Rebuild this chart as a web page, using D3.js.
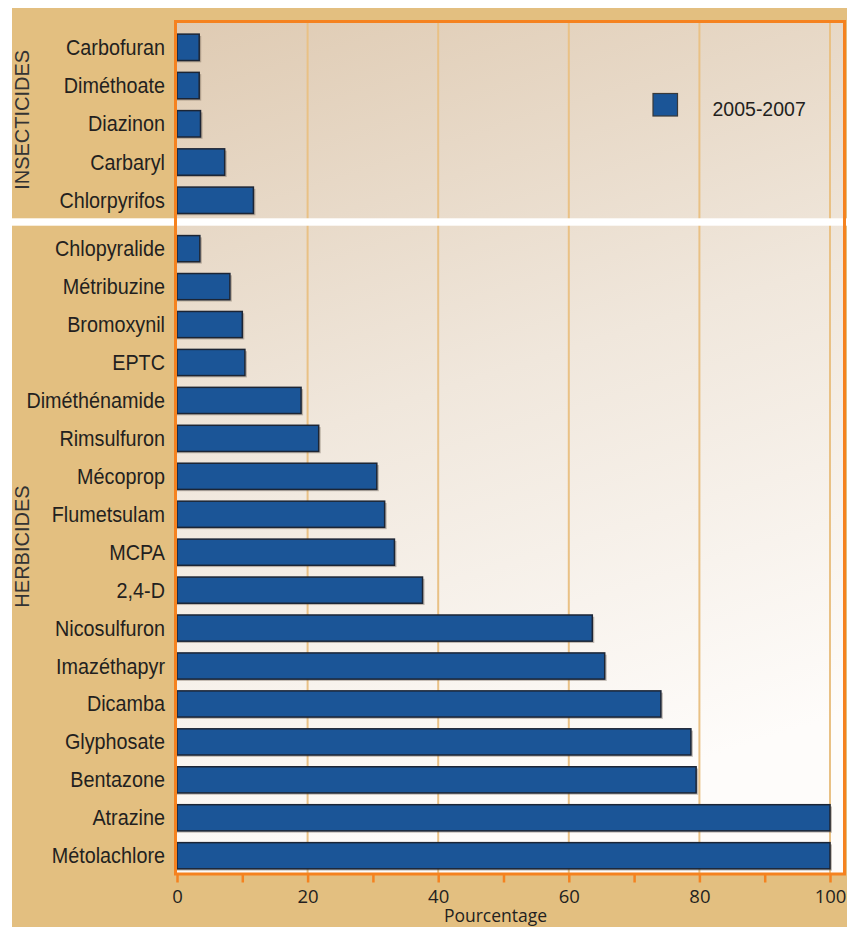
<!DOCTYPE html>
<html>
<head>
<meta charset="utf-8">
<script src="https://cdn.jsdelivr.net/npm/d3@7"></script>
<style>
  html, body { margin: 0; padding: 0; background: #ffffff; }
  svg { display: block; }
</style>
</head>
<body>
<svg id="chart" width="847" height="927"></svg>
<script>
// ---- Data ----
const insecticides = ["Carbofuran", "Diméthoate", "Diazinon", "Carbaryl", "Chlorpyrifos"];
const insecticideValues = [3.4, 3.4, 3.6, 7.3, 11.7];

const herbicides = ["Chlopyralide", "Métribuzine", "Bromoxynil", "EPTC", "Diméthénamide",
  "Rimsulfuron", "Mécoprop", "Flumetsulam", "MCPA", "2,4-D", "Nicosulfuron",
  "Imazéthapyr", "Dicamba", "Glyphosate", "Bentazone", "Atrazine", "Métolachlore"];
const herbicideValues = [3.5, 8.1, 10.0, 10.4, 19.0, 21.7, 30.6, 31.8, 33.3, 37.6, 63.6,
  65.5, 74.1, 78.7, 79.5, 100, 100];

const groupLabels = ["INSECTICIDES", "HERBICIDES"];
const seriesName = "2005-2007";
const tickValues = [0, 10, 20, 30, 40, 50, 60, 70, 80, 90, 100];
const tickLabels = ["0", "", "20", "", "40", "", "60", "", "80", "", "100"];
const axisTitle = "Pourcentage";

// ---- Layout ----
const svg = d3.select("#chart");
const W = 847, H = 927;
const plot = { left: 175.5, top: 21.5, right: 844.5, bottom: 874 };

const x = d3.scaleLinear().domain([0, 100]).range([177, 830]);
const yIns = d3.scaleBand().domain(insecticides).range([28.2, 219.4]).paddingInner(0.31).paddingOuter(0.155);
const yHerb = d3.scaleBand().domain(herbicides).range([229.7, 874.7]).paddingInner(0.31).paddingOuter(0.155);

const defs = svg.append("defs");
const grad = defs.append("linearGradient").attr("id", "bg")
  .attr("x1", 0).attr("y1", 0).attr("x2", 0.25).attr("y2", 1);
grad.append("stop").attr("offset", 0).attr("stop-color", "#dfcbb3");
grad.append("stop").attr("offset", 0.5).attr("stop-color", "#f0e7dc");
grad.append("stop").attr("offset", 1).attr("stop-color", "#fefcfa");

// outer tan panel
svg.append("rect").attr("x", 12).attr("y", 8).attr("width", W - 12).attr("height", H - 8)
  .attr("fill", "#e3bf80");

// plot background
svg.append("rect").attr("x", plot.left).attr("y", plot.top)
  .attr("width", plot.right - plot.left).attr("height", plot.bottom - plot.top)
  .attr("fill", "url(#bg)");

// gridlines
svg.append("g").selectAll("line").data([20, 40, 60, 80, 100]).join("line")
  .attr("x1", d => x(d)).attr("x2", d => x(d))
  .attr("y1", plot.top).attr("y2", plot.bottom)
  .attr("stroke", "#e9c185").attr("stroke-width", 2);

// white separator band
svg.append("rect").attr("x", 12).attr("y", 218.3).attr("width", W - 12).attr("height", 7.4)
  .attr("fill", "#ffffff");

// bars
function drawBars(cats, vals, yScale) {
  const data = cats.map((c, i) => ({ c, v: vals[i] }));
  const g = svg.append("g");
  g.selectAll("rect.shadow").data(data).join("rect").attr("class", "shadow")
    .attr("x", x(0)).attr("y", d => yScale(d.c) + 1.8)
    .attr("width", d => x(d.v) - x(0) + 2).attr("height", yScale.bandwidth())
    .attr("fill", "rgba(90,75,60,0.35)");
  g.selectAll("rect.bar").data(data).join("rect").attr("class", "bar")
    .attr("x", x(0)).attr("y", d => yScale(d.c))
    .attr("width", d => x(d.v) - x(0)).attr("height", yScale.bandwidth())
    .attr("fill", "#1b5597").attr("stroke", "#1c2535").attr("stroke-width", 1.5);
  g.selectAll("text").data(data).join("text")
    .attr("transform", d => `translate(165,${yScale(d.c) + yScale.bandwidth() / 2}) scale(1,1.08)`)
    .attr("dy", "0.35em").attr("text-anchor", "end")
    .attr("font-family", "'Liberation Sans', Arial, sans-serif")
    .attr("font-size", 19.8).attr("fill", "#231f20")
    .text(d => d.c);
}
drawBars(insecticides, insecticideValues, yIns);
drawBars(herbicides, herbicideValues, yHerb);

// plot border
svg.append("rect").attr("x", plot.left).attr("y", plot.top)
  .attr("width", plot.right - plot.left).attr("height", plot.bottom - plot.top)
  .attr("fill", "none").attr("stroke", "#f5821f").attr("stroke-width", 3);

// x axis
const axis = d3.axisBottom(x).tickValues(tickValues).tickSize(8)
  .tickFormat((d, i) => tickLabels[i]);
const ax = svg.append("g").attr("transform", `translate(0,${plot.bottom + 0.5})`).call(axis);
ax.select(".domain").remove();
ax.selectAll(".tick line").attr("stroke", "#f5821f").attr("stroke-width", 2.5);
ax.selectAll(".tick text").attr("y", 28.5).attr("dy", null)
  .attr("font-family", "'Open Sans', sans-serif").attr("font-size", 18.5)
  .attr("fill", "#231f20");

svg.append("text").attr("x", 495.5).attr("y", 922).attr("text-anchor", "middle")
  .attr("font-family", "'Open Sans', sans-serif").attr("font-size", 17.5)
  .attr("fill", "#231f20").text(axisTitle);

// group labels
const groupCenters = [
  (yIns.range()[0] + yIns.range()[1]) / 2 - 4,
  546.5
];
svg.append("g").selectAll("text").data(groupLabels).join("text")
  .attr("transform", (d, i) => `translate(28.5,${groupCenters[i]}) rotate(-90)`)
  .attr("text-anchor", "middle")
  .attr("font-family", "'Liberation Sans', Arial, sans-serif")
  .attr("font-size", 20).attr("fill", "#333333")
  .text(d => d);

// legend
svg.append("rect").attr("x", 653).attr("y", 93.5).attr("width", 24.5).attr("height", 22.5)
  .attr("fill", "#1b5597").attr("stroke", "#3a3a3a").attr("stroke-width", 1.2);
svg.append("text").attr("x", 712.5).attr("y", 116)
  .attr("font-family", "'Liberation Sans', Arial, sans-serif")
  .attr("font-size", 19.5).attr("fill", "#231f20").text(seriesName);
</script>
</body>
</html>
